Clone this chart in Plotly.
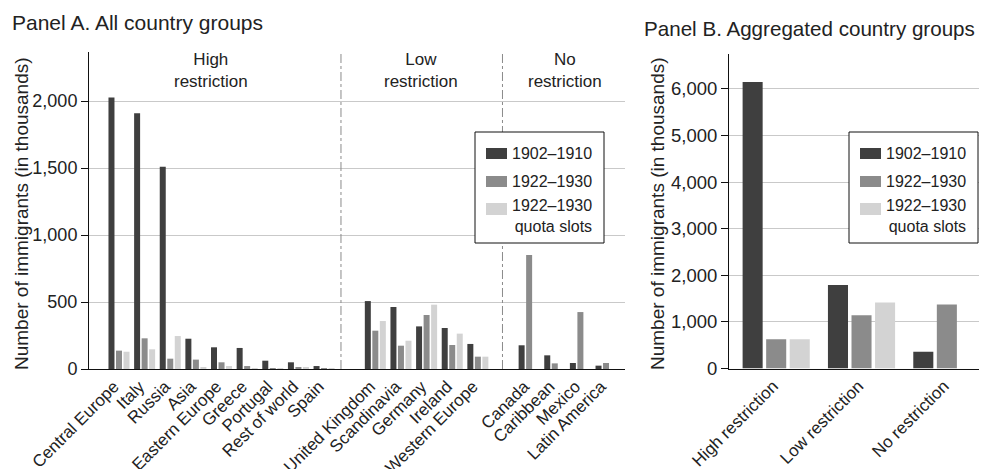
import plotly.graph_objects as go

# ---------------- data ----------------
high_countries = ["Central Europe", "Italy", "Russia", "Asia", "Eastern Europe",
                  "Greece", "Portugal", "Rest of world", "Spain"]
low_countries = ["United Kingdom", "Scandinavia", "Germany", "Ireland", "Western Europe"]
no_countries = ["Canada", "Caribbean", "Mexico", "Latin America"]

high_1902 = [2027, 1908, 1510, 226, 162, 157, 62, 50, 22]
high_1922 = [137, 229, 77, 70, 50, 22, 7, 15, 3]
high_quota = [129, 147, 246, 15, 22, 7, 5, 15, 3]

low_1902 = [507, 463, 318, 306, 187]
low_1922 = [286, 174, 403, 179, 92]
low_quota = [358, 211, 480, 264, 92]

no_1902 = [177, 102, 45, 25]
no_1922 = [851, 42, 425, 45]
no_quota = [None, None, None, None]

agg_groups = ["High restriction", "Low restriction", "No restriction"]
agg_1902 = [6150, 1790, 357]
agg_1922 = [630, 1145, 1375]
agg_quota = [630, 1418, None]

series_names = ["1902–1910", "1922–1930", "1922–1930<br>quota slots"]
group_labels = ["High<br>restriction", "Low<br>restriction", "No<br>restriction"]
yticks_a = [0, 500, 1000, 1500, 2000]
yticks_b = [0, 1000, 2000, 3000, 4000, 5000, 6000]

# ---------------- styling ----------------
OFF = 8                      # default page body margin
W, H = 987 - OFF, 469 - OFF  # figure size so page fits the window
FONT = "Liberation Sans, Arial, Helvetica, sans-serif"
TXT = "#222222"
C_DARK, C_MID, C_LIGHT = "#3f3f3f", "#8b8b8b", "#d3d3d3"
GRID = "#c9c9c9"


def px(x):
    return (x - OFF) / W


def py(y):
    return 1 - (y - OFF) / H


# category positions: one empty slot between groups
pos_high = list(range(len(high_countries)))
pos_low = [len(high_countries) + 1 + i for i in range(len(low_countries))]
pos_no = [pos_low[-1] + 2 + i for i in range(len(no_countries))]
positions = pos_high + pos_low + pos_no
categories = high_countries + low_countries + no_countries
v1902 = high_1902 + low_1902 + no_1902
v1922 = high_1922 + low_1922 + no_1922
vquota = high_quota + low_quota + no_quota

fig = go.Figure()

# Panel A bars
wa, pa = 0.234, 0.293
for vals, col, off in [(v1902, C_DARK, -pa - wa / 2), (v1922, C_MID, -wa / 2), (vquota, C_LIGHT, pa - wa / 2)]:
    fig.add_trace(go.Bar(x=positions, y=vals, width=wa, offset=off,
                         marker=dict(color=col, line=dict(width=0)),
                         xaxis="x", yaxis="y", showlegend=False, hoverinfo="x+y"))

# Panel B bars
wb, pb = 0.235, 0.276
agg_pos = list(range(len(agg_groups)))
for vals, col, off in [(agg_1902, C_DARK, -pb - wb / 2), (agg_1922, C_MID, -wb / 2), (agg_quota, C_LIGHT, pb - wb / 2)]:
    fig.add_trace(go.Bar(x=agg_pos, y=vals, width=wb, offset=off,
                         marker=dict(color=col, line=dict(width=0)),
                         xaxis="x2", yaxis="y2", showlegend=False, hoverinfo="x+y"))

axis_common = dict(showline=True, linecolor="#111111", linewidth=1, mirror=False,
                   zeroline=False, automargin=False)

fig.update_layout(
    width=W, height=H,
    margin=dict(l=0, r=0, t=0, b=0, autoexpand=False),
    paper_bgcolor="white", plot_bgcolor="white",
    barmode="overlay",
    font=dict(family=FONT, color=TXT, size=17),
    showlegend=False,
    xaxis=dict(domain=[px(89), px(625)], range=[-1.17, 19.74],
               tickvals=positions, ticktext=categories, tickangle=-45,
               tickfont=dict(size=17, color=TXT), ticks="", showgrid=False,
               ticklabelshift=-5, anchor="y", **axis_common),
    yaxis=dict(domain=[py(369), py(52)], range=[0, 2366],
               tickvals=yticks_a, tickformat=",", ticks="outside", ticklen=7,
               tickcolor="#111111", tickfont=dict(size=18, color=TXT),
               showgrid=True, gridcolor=GRID, gridwidth=1, anchor="x",
               **axis_common),
    xaxis2=dict(domain=[px(729), px(985)], range=[-0.553, 2.447],
                tickvals=agg_pos, ticktext=agg_groups, tickangle=-45,
                tickfont=dict(size=17, color=TXT), ticks="", showgrid=False,
                ticklabelshift=-3, anchor="y2", **axis_common),
    yaxis2=dict(domain=[py(368.5), py(54)], range=[0, 6750],
                tickvals=yticks_b, tickformat=",", ticks="outside", ticklen=7,
                tickcolor="#111111", tickfont=dict(size=18.5, color=TXT),
                showgrid=True, gridcolor=GRID, gridwidth=1, anchor="x2",
                **axis_common),
)

shapes = []
annotations = []

# dividers in panel A
for xd in [8.66, 14.96]:
    shapes.append(dict(type="line", xref="x", yref="y domain", x0=xd, x1=xd, y0=0, y1=1,
                       line=dict(color="#8a8a8a", width=1, dash="dashdot")))

# group labels panel A
for xc, label in zip([3.59, 11.78, 17.39], group_labels):
    annotations.append(dict(xref="x", yref="paper", x=xc, y=py(70), text=label, showarrow=False,
                            xanchor="center", yanchor="middle", align="center",
                            font=dict(size=17, color=TXT)))

# titles
annotations.append(dict(xref="paper", yref="paper", x=px(10), y=py(23), text="Panel A. All country groups",
                        showarrow=False, xanchor="left", yanchor="middle", font=dict(size=21, color=TXT)))
annotations.append(dict(xref="paper", yref="paper", x=px(642), y=py(28), text="Panel B. Aggregated country groups",
                        showarrow=False, xanchor="left", yanchor="middle", font=dict(size=20.6, color=TXT)))

# y axis titles
for xc in [21, 657]:
    annotations.append(dict(xref="paper", yref="paper", x=px(xc), y=py(214),
                            text="Number of immigrants (in thousands)", textangle=-90,
                            showarrow=False, xanchor="center", yanchor="middle",
                            font=dict(size=19, color=TXT)))

# custom legends
for bx in [475, 849]:
    shapes.append(dict(type="rect", xref="paper", yref="paper", x0=px(bx), x1=px(bx + 129),
                       y0=py(243), y1=py(132), line=dict(color="#111111", width=1),
                       fillcolor="white", layer="above"))
    rows = [(C_DARK, 148, 159), (C_MID, 176, 187), (C_LIGHT, 203, 215)]
    for col, y0, y1 in rows:
        shapes.append(dict(type="rect", xref="paper", yref="paper", x0=px(bx + 11), x1=px(bx + 32),
                           y0=py(y1), y1=py(y0), line=dict(width=0), fillcolor=col, layer="above"))
    annotations.append(dict(xref="paper", yref="paper", x=px(bx + 35), y=py(154), text=series_names[0],
                            showarrow=False, xanchor="left", yanchor="middle", font=dict(size=16, color=TXT)))
    annotations.append(dict(xref="paper", yref="paper", x=px(bx + 35), y=py(181), text=series_names[1],
                            showarrow=False, xanchor="left", yanchor="middle", font=dict(size=16, color=TXT)))
    annotations.append(dict(xref="paper", yref="paper", x=px(bx + 35), y=py(216), text=series_names[2],
                            showarrow=False, xanchor="left", yanchor="middle", align="right",
                            font=dict(size=16, color=TXT)))

fig.update_layout(shapes=shapes, annotations=annotations)
fig.write_html("out.html")
